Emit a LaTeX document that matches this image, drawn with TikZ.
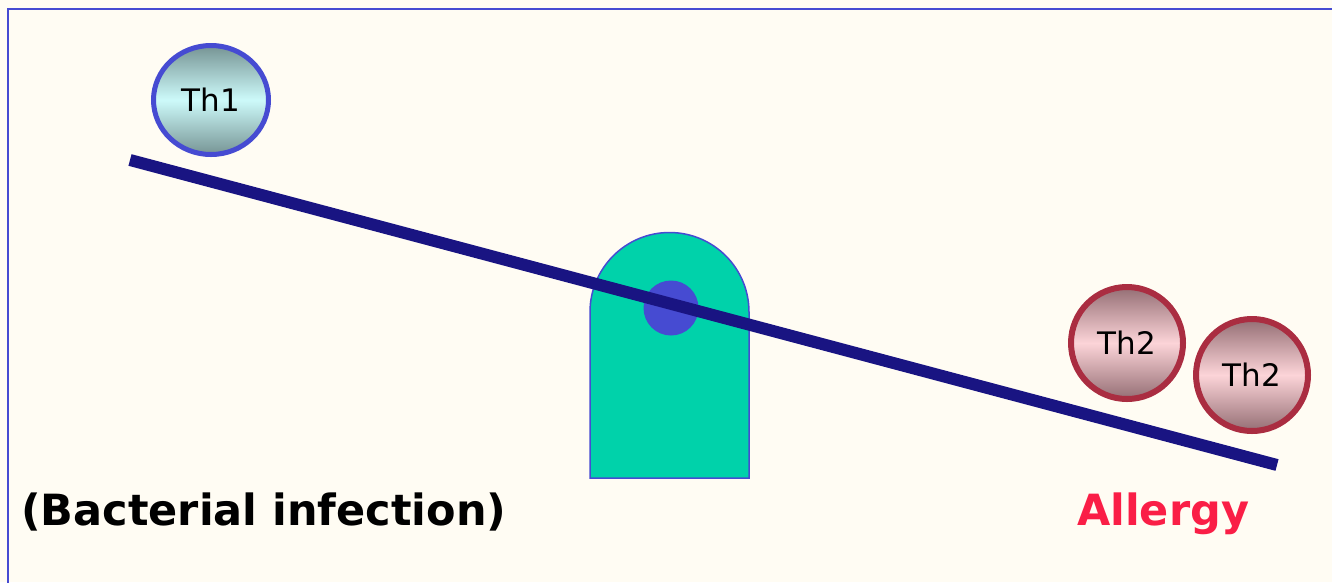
\documentclass[tikz,border=0pt]{standalone}
\usepackage{fontspec}
\setmainfont{DejaVu Sans}
\usepackage{tikz}
\usetikzlibrary{shapes.geometric}
\definecolor{fond}{RGB}{255,252,243}
\definecolor{cadre}{RGB}{70,75,210}
\definecolor{levier}{RGB}{25,20,130}
\definecolor{socle}{RGB}{0,210,170}
\definecolor{bordth}{RGB}{170,45,65}
\definecolor{alerte}{RGB}{250,30,70}
\definecolor{thunbord}{RGB}{118,148,148}
\definecolor{thuncentre}{RGB}{205,250,250}
\definecolor{thdeuxbord}{RGB}{148,110,116}
\definecolor{thdeuxcentre}{RGB}{252,212,216}

\tikzset{
  thone/.style={ellipse,draw=cadre,line width=5pt,minimum width=115pt,minimum height=109pt,
    top color=thunbord,bottom color=thunbord,middle color=thuncentre,
    font=\fontsize{31}{36}\selectfont},
  thtwo/.style={circle,draw=bordth,line width=6pt,minimum size=112pt,
    top color=thdeuxbord,bottom color=thdeuxbord,middle color=thdeuxcentre,
    font=\fontsize{31}{36}\selectfont},
  etiquette/.style={anchor=base west,font=\fontsize{43}{50}\bfseries\selectfont,inner sep=0pt}
}

\begin{document}
\begin{tikzpicture}[x=1pt,y=-1pt]
  \useasboundingbox (0,0) rectangle (1332,582);
  \clip (0,0) rectangle (1332,582);
  \fill[fond] (0,0) rectangle (1332,582);
  \draw[cadre,line width=2pt] (8,9) rectangle (1345,600);
  % socle
  \draw[fill=socle,draw=cadre,line width=1.5pt] (590,478) -- (590,312) arc[start angle=180,end angle=360,radius=79.5] -- (749,478) -- cycle;
  \fill[cadre] (671,308) circle (27.5);
  % levier
  \draw[levier,line width=12pt] (130,160) -- (1277,465);
  \node[thone] (th1) at (211,100) {Th1};
  \node[thtwo] (th2a) at (1127,343) {Th2};
  \node[thtwo] (th2b) at (1252,375) {Th2};
  \node[etiquette] (bact) at (21,525) {(Bacterial infection)};
  \node[etiquette,text=alerte] (allergie) at (1077,525) {Allergy};
\end{tikzpicture}
\end{document}
